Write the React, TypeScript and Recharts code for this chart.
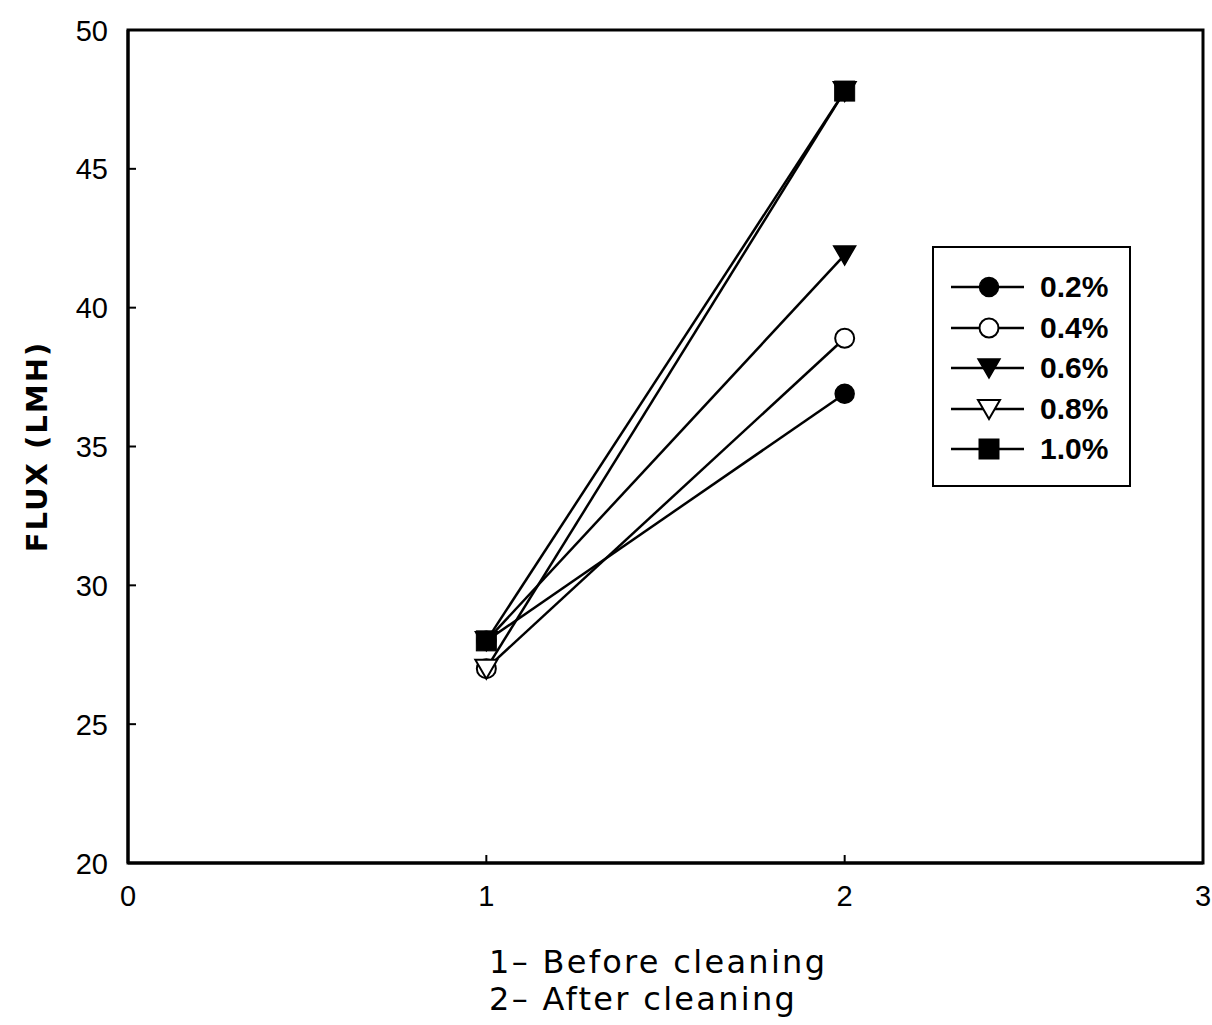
import React from 'react';
import { LineChart, Line, XAxis, YAxis, Legend, ReferenceArea } from 'recharts';

const xValues = [1, 2];
const series02 = [28, 36.9];
const series04 = [27, 38.9];
const series06 = [28, 41.9];
const series08 = [27, 47.8];
const series10 = [28, 47.8];
const seriesNames = ['0.2%', '0.4%', '0.6%', '0.8%', '1.0%'];
const seriesKeys = ['s02', 's04', 's06', 's08', 's10'];
const seriesShapes = ['circleFilled', 'circleOpen', 'triFilled', 'triOpen', 'square'];
const xTicks = [0, 1, 2, 3];
const yTicks = [20, 25, 30, 35, 40, 45, 50];
const xDomain = [0, 3];
const yDomain = [20, 50];
const xLabelLines = ['1\u2013 Before cleaning', '2\u2013 After cleaning'];
const yLabel = 'FLUX (LMH)';

const allSeries = [series02, series04, series06, series08, series10];
const data = xValues.map((x, i) => {
  const row: Record<string, number> = { x };
  seriesKeys.forEach((k, j) => {
    row[k] = allSeries[j][i];
  });
  return row;
});

function Marker({ cx, cy, shape }: { cx: number; cy: number; shape: string }) {
  switch (shape) {
    case 'circleFilled':
      return <circle cx={cx} cy={cy} r={9.5} fill="#000" stroke="#000" strokeWidth={1.5} />;
    case 'circleOpen':
      return <circle cx={cx} cy={cy} r={9.5} fill="#fff" stroke="#000" strokeWidth={2} />;
    case 'triFilled':
      return (
        <polygon
          points={`${cx - 11},${cy - 9} ${cx + 11},${cy - 9} ${cx},${cy + 10}`}
          fill="#000"
          stroke="#000"
          strokeWidth={1.5}
        />
      );
    case 'triOpen':
      return (
        <polygon
          points={`${cx - 11},${cy - 9} ${cx + 11},${cy - 9} ${cx},${cy + 10}`}
          fill="#fff"
          stroke="#000"
          strokeWidth={2}
        />
      );
    default:
      return <rect x={cx - 10} y={cy - 10} width={20} height={20} fill="#000" stroke="#000" strokeWidth={1} />;
  }
}

const LegendBox = () => (
  <div
    style={{
      width: 195,
      height: 237,
      border: '2px solid #000',
      background: '#fff',
      boxSizing: 'content-box',
      position: 'relative',
    }}
  >
    {seriesNames.map((name, i) => (
      <div
        key={name}
        style={{
          position: 'absolute',
          left: 0,
          top: 24 + i * 40.5,
          height: 30,
          display: 'flex',
          alignItems: 'center',
        }}
      >
        <svg width={100} height={30} style={{ display: 'block' }}>
          <line x1={17} y1={15} x2={90} y2={15} stroke="#000" strokeWidth={2.5} />
          <Marker cx={55} cy={15} shape={seriesShapes[i]} />
        </svg>
        <span
          style={{
            marginLeft: 6,
            fontFamily: '"Liberation Sans", Arial, sans-serif',
            fontWeight: 'bold',
            fontSize: 30,
            color: '#000',
            lineHeight: '30px',
          }}
        >
          {name}
        </span>
      </div>
    ))}
  </div>
);

const renderXLabel = (props: any) => {
  const vb = props.viewBox || { x: 128, y: 863 };
  return (
    <g>
      {xLabelLines.map((t, i) => (
        <text
          key={t}
          x={vb.x + 361}
          y={vb.y + 110 + i * 37}
          fontFamily='"DejaVu Sans", sans-serif'
          fontSize={32}
          letterSpacing={2.3}
          fill="#000"
        >
          {t}
        </text>
      ))}
    </g>
  );
};

const renderYLabel = (props: any) => {
  const vb = props.viewBox || { x: 0, y: 30, width: 128, height: 833 };
  const cx = vb.x + 37;
  const cy = vb.y + vb.height / 2;
  return (
    <text
      x={cx}
      y={cy}
      transform={`rotate(-90, ${cx}, ${cy})`}
      textAnchor="middle"
      dominantBaseline="central"
      fontFamily='"DejaVu Sans", sans-serif'
      fontWeight="bold"
      fontSize={29}
      letterSpacing={2}
      fill="#000"
    >
      {yLabel}
    </text>
  );
};

const FONT = '"Liberation Sans", Arial, sans-serif';
const X_MARGIN = 22;
const Y_MARGIN = 20;
const TICK_LEN = 8;

const XTick = (props: any) => {
  const { x, y, payload } = props;
  return (
    <g>
      <line x1={x} x2={x} y1={y - X_MARGIN} y2={y - X_MARGIN - TICK_LEN} stroke="#000" strokeWidth={2} />
      <text x={x} y={y + 21} textAnchor="middle" fontSize={29} fontFamily={FONT} fill="#000">
        {payload.value}
      </text>
    </g>
  );
};

const YTick = (props: any) => {
  const { x, y, payload } = props;
  return (
    <g>
      <line x1={x + Y_MARGIN} x2={x + Y_MARGIN + TICK_LEN} y1={y} y2={y} stroke="#000" strokeWidth={2} />
      <text x={x} y={y + 10.5} textAnchor="end" fontSize={29} fontFamily={FONT} fill="#000">
        {payload.value}
      </text>
    </g>
  );
};

export default function App() {
  return (
    <div style={{ position: 'absolute', left: 0, top: 0, background: '#fff' }}>
      <LineChart width={1212} height={1025} data={data} margin={{ top: 30, right: 9, bottom: 0, left: 0 }}>
        <XAxis
          dataKey="x"
          type="number"
          domain={xDomain}
          ticks={xTicks}
          interval={0}
          tick={<XTick />}
          tickSize={0}
          tickMargin={X_MARGIN}
          tickLine={false}
          axisLine={{ stroke: '#000', strokeWidth: 3 }}
          height={162}
          label={renderXLabel}
        />
        <YAxis
          type="number"
          domain={yDomain}
          ticks={yTicks}
          interval={0}
          tick={<YTick />}
          tickSize={0}
          tickMargin={Y_MARGIN}
          tickLine={false}
          width={128}
          axisLine={{ stroke: '#000', strokeWidth: 3 }}
          label={renderYLabel}
        />
        <ReferenceArea
          x1={xDomain[0]}
          x2={xDomain[1]}
          y1={yDomain[0]}
          y2={yDomain[1]}
          fill="none"
          fillOpacity={0}
          stroke="#000"
          strokeWidth={3}
          ifOverflow="visible"
        />
        <Legend
          layout="vertical"
          align="center"
          verticalAlign="middle"
          content={<LegendBox />}
          wrapperStyle={{ position: 'absolute', left: 932, top: 246, width: 199, height: 241, bottom: 'auto', right: 'auto' }}
        />
        {seriesKeys.map((k, i) => (
          <Line
            key={k}
            dataKey={k}
            name={seriesNames[i]}
            stroke="#000"
            strokeWidth={2.5}
            isAnimationActive={false}
            dot={(p: any) => <Marker key={`${k}-${p.index}`} cx={p.cx} cy={p.cy} shape={seriesShapes[i]} />}
            activeDot={false}
          />
        ))}
      </LineChart>
    </div>
  );
}
